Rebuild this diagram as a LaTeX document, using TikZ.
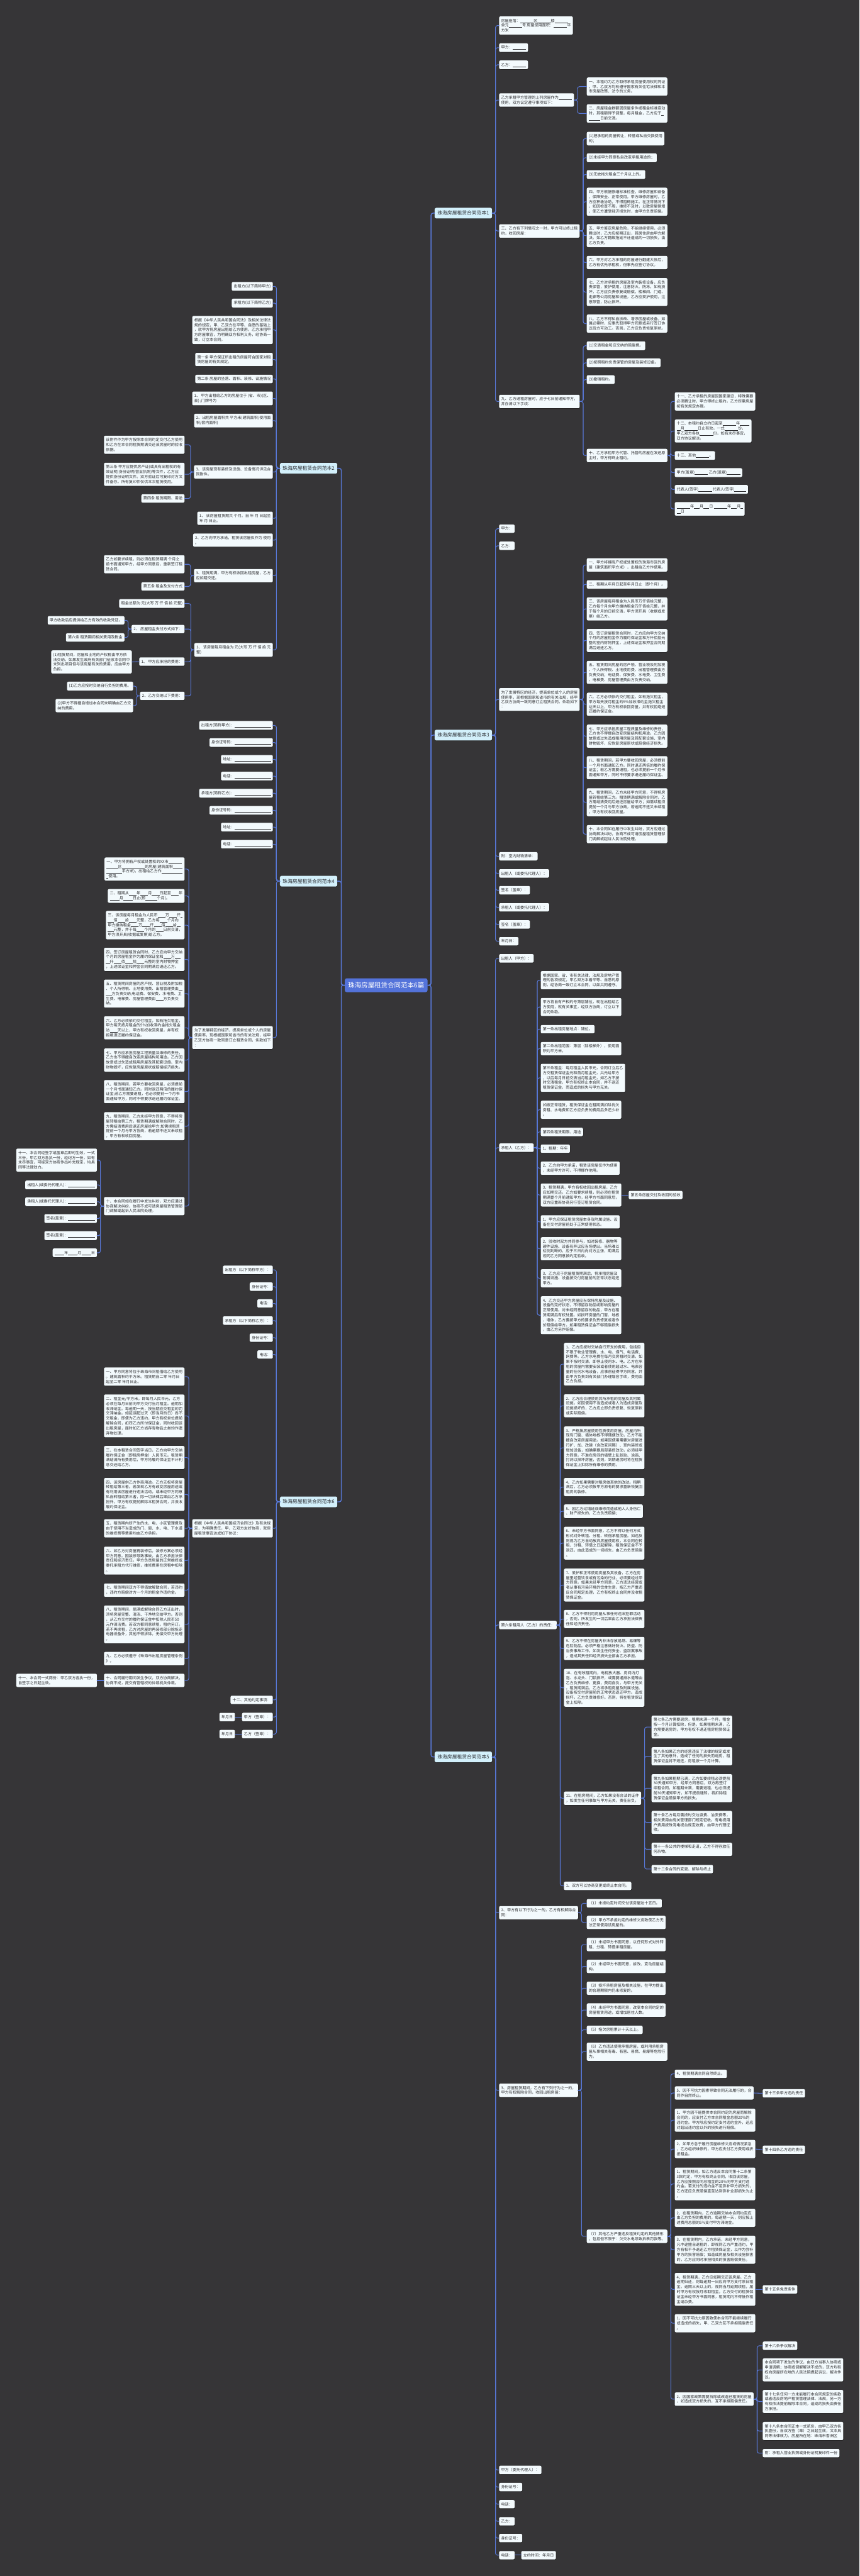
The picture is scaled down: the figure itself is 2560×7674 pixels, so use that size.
\documentclass[tikz,border=0pt]{standalone}
\usepackage{fontspec}
\setmainfont{Noto Sans CJK SC}
\usetikzlibrary{shadows}
\newcommand{\blk}[1]{\rule[-0.8pt]{\dimexpr 2.85pt*#1\relax}{0.4pt}}

\begin{document}
\begin{tikzpicture}
		[x=0.5pt,y=-0.5pt,line cap=round,
		%Styles
		conn/.style={draw=linkcolor,line width=1pt,rounded corners=3pt},
		leaf/.style={rounded corners=2pt,fill=leafcolor,text=inkcolor,align=left,inner xsep=3pt,inner ysep=3.6pt,
			font=\fontsize{5.7}{7.3}\selectfont,
			drop shadow={shadow xshift=.5pt,shadow yshift=-.6pt,opacity=.45,fill=black}},
		leafR/.style={leaf,anchor=west},
		leafL/.style={leaf,anchor=east},
		topic/.style={rounded corners=2.5pt,fill=topiccolor,text=topicink,
			inner xsep=4.2pt,inner ysep=4.6pt,font=\fontsize{7.3}{8.5}\selectfont,
			drop shadow={shadow xshift=.5pt,shadow yshift=-.6pt,opacity=.45,fill=black}},
		root/.style={rounded corners=3pt,fill=rootcolor,text=white,inner xsep=5pt,inner ysep=5.8pt,
			font=\fontsize{9.8}{11}\selectfont}
		]
		
		%Colors
		\definecolor{bgcolor}{RGB}{54,53,55}
		\definecolor{linkcolor}{RGB}{88,120,216}
		\definecolor{leafcolor}{RGB}{243,250,253}
		\definecolor{inkcolor}{RGB}{45,45,48}
		\definecolor{topiccolor}{RGB}{211,240,251}
		\definecolor{topicink}{RGB}{43,45,50}
		\definecolor{rootcolor}{RGB}{84,115,218}
		
		%Background
		\fill[bgcolor] (0,0) rectangle (2560,7674);
		\useasboundingbox (0,0) rectangle (2560,7674);
		
		%Root and topics
		\node[root] (root) at (1150,2935) {珠海房屋租赁合同范本6篇};
		\node[topic,anchor=west] (t1) at (1294,635) {珠海房屋租赁合同范本1};
		\node[topic,anchor=west] (t3) at (1294,2190) {珠海房屋租赁合同范本3};
		\node[topic,anchor=west] (t5) at (1294,5234) {珠海房屋租赁合同范本5};
		\node[topic,anchor=east] (t2) at (1005,1395) {珠海房屋租赁合同范本2};
		\node[topic,anchor=east] (t4) at (1005,2625) {珠海房屋租赁合同范本4};
		\node[topic,anchor=east] (t6) at (1005,4474) {珠海房屋租赁合同范本6};
		
		\draw[conn,line width=1.3pt] (root.east) -- ++(10,0) |- (t1.west);
		\draw[conn,line width=1.3pt] (root.east) -- ++(10,0) |- (t3.west);
		\draw[conn,line width=1.3pt] (root.east) -- ++(10,0) |- (t5.west);
		\draw[conn,line width=1.3pt] (root.west) -- ++(-10,0) |- (t2.east);
		\draw[conn,line width=1.3pt] (root.west) -- ++(-10,0) |- (t4.east);
		\draw[conn,line width=1.3pt] (root.west) -- ++(-10,0) |- (t6.east);
		
		%Topic 1
		\node[leafR] (a1) at (1486,76) {房屋座落：\blk{7}区\blk{7}楼\blk{7}\\单元\blk{7}号 房屋使用面积：\blk{7}平\\方米};
		\node[leafR] (a2) at (1486,142) {甲方：\blk{7}};
		\node[leafR] (a3) at (1486,193) {乙方：\blk{7}};
		\node[leafR] (a4) at (1486,298) {乙方承租甲方管理的上列房屋作为\blk{7}\\使用，双方议定遵守事项如下：};
		\node[leafR] (a5) at (1486,688) {三、乙方有下列情况之一时，甲方可以终止租\\约，收回房屋：};
		\node[leafR] (a6) at (1486,1196) {九、乙方退租房屋时，应于七日前通知甲方，\\并办清以下手续：};
		\foreach \c in {a1,a2,a3,a4,a5,a6}
			\draw[conn] (t1.east) -- ++(10,0) |- (\c.west);
		
		\node[leafR] (a4a) at (1747,258) {一、本租约为乙方取得承租房屋使用权的凭证\\。甲、乙双方均有遵守国家有关住宅法律和本\\市房屋政策、法令的义务。};
		\node[leafR] (a4b) at (1747,338) {二、房屋租金数额因房屋条件或租金标准变动\\时，其租额得予调整，每月租金，乙方应于\blk{1}\\\blk{6}日前交清。};
		\foreach \c in {a4a,a4b}
			\draw[conn] (a4.east) -- ++(10,0) |- (\c.west);
		
		\node[leafR] (a5a) at (1747,413) {(1)把承租的房屋转让，转借或私自交换使用\\的；};
		\node[leafR] (a5b) at (1747,470) {(2)未经甲方同意私自改变承租用途的；};
		\node[leafR] (a5c) at (1747,520) {(3)无故拖欠租金三个月以上的。};
		\node[leafR] (a5d) at (1747,601) {四、甲方根据修缮标准检查，维修房屋和设备\\，保障安全、正常使用。甲方维修房屋时，乙\\方应积极协助，不得阻碍施工。在正常情况下\\，如因检查不周，维修不及时，以致房屋倒塌\\，使乙方遭受经济损失时，由甲方负责赔偿。};
		\node[leafR] (a5e) at (1747,702) {五、甲方鉴定房屋危险，不能继续使用，必须\\腾出时，乙方应按期迁出，其居住房由甲方解\\决。如乙方籍故拖延不迁造成的一切损失，由\\乙方负责。};
		\node[leafR] (a5f) at (1747,782) {六、甲方对乙方承租的房屋进行翻建大修后，\\乙方有优先承租权，但事先应签订协议。};
		\node[leafR] (a5g) at (1747,870) {七、乙方对承租的房屋及室内装修设备，应负\\责保管，爱护使用，注意防火、防冻。如有损\\坏，乙方应负责修复或赔偿。楼梯间、门道、\\走廊等公用房屋和设施，乙方应爱护使用，注\\意照管，防止损坏。};
		\node[leafR] (a5h) at (1747,964) {八、乙方不得私自拆改、增添房屋或设备。如\\属必需时，应事先取得甲方同意或另行签订协\\议后方可动工。否则，乙方应负责恢复原状。};
		\foreach \c in {a5a,a5b,a5c,a5d,a5e,a5f,a5g,a5h}
			\draw[conn] (a5.east) -- ++(10,0) |- (\c.west);
		
		\node[leafR] (a6a) at (1747,1030) {(1)交清租金和应交纳的赔偿费。};
		\node[leafR] (a6b) at (1747,1081) {(2)按照租约负责保管的房屋及装修设备。};
		\node[leafR] (a6c) at (1747,1131) {(3)撤销租约。};
		\node[leafR] (a6d) at (1747,1357) {十、乙方承租甲方代管、托管的房屋在发还原\\主时，甲方得终止租约。};
		\foreach \c in {a6a,a6b,a6c,a6d}
			\draw[conn] (a6.east) -- ++(10,0) |- (\c.west);
		
		\node[leafR] (g1) at (2009,1196) {十一、乙方承租的房屋因国家建设，特殊需要\\必须腾让时，甲方得终止租约。乙方所需房屋\\按有关规定办理。};
		\node[leafR] (g2) at (2009,1284) {十二、本租约自立约日起至\blk{7}年\blk{5}\\\blk{2}月\blk{7}日止有效。一式\blk{7}份，\\甲乙双方各执\blk{7}份，如有未尽事宜，\\双方协议解决。};
		\node[leafR] (g3) at (2009,1357) {十三、其他\blk{7}。};
		\node[leafR] (g4) at (2009,1408) {甲方(盖章)\blk{7} 乙方(盖章)\blk{7}};
		\node[leafR] (g5) at (2009,1458) {代表人(签字)\blk{7} 代表人(签字)\blk{6}};
		\node[leafR] (g6) at (2009,1516) {\blk{7}年\blk{3}月\blk{3}日 \blk{7}年\blk{3}月\blk{1}\\\blk{2}日};
		\foreach \c in {g1,g2,g3,g4,g5,g6}
			\draw[conn] (a6d.east) -- ++(10,0) |- (\c.west);
		
		%Topic 3
		\node[leafR] (b1) at (1486,1575) {甲方：};
		\node[leafR] (b2) at (1486,1626) {乙方：};
		\node[leafR] (b3) at (1486,2084) {为了发展特区的经济，提高单位或个人的房屋\\使用率，现根据国家和省市的有关法规，经甲\\乙双方协商一致同意订立租赁合同，条款如下\\：};
		\node[leafR] (b4) at (1486,2551) {附：室内财物清单：};
		\node[leafR] (b5) at (1486,2602) {出租人（或委托代理人）：};
		\node[leafR] (b6) at (1486,2652) {签名（盖章）：};
		\node[leafR] (b7) at (1486,2703) {承租人（或委托代理人）：};
		\node[leafR] (b8) at (1486,2754) {签名（盖章）：};
		\node[leafR] (b9) at (1486,2804) {年月日：};
		\foreach \c in {b1,b2,b3,b4,b5,b6,b7,b8,b9}
			\draw[conn] (t3.east) -- ++(10,0) |- (\c.west);
		
		\node[leafR] (h1) at (1747,1683) {一、甲方将拥有产权或处置权的珠海市区的房\\屋（建筑面积平方米），出租给乙方作使用。};
		\node[leafR] (h2) at (1747,1741) {二、租期从年月日起至年月日止（即个月）。};
		\node[leafR] (h3) at (1747,1814) {三、该房屋每月租金为人民币万仟佰拾元整，\\乙方每个月向甲方缴纳租金万仟佰拾元整，并\\于每个月的日前交清，甲方须开具（收据或发\\票）给乙方。};
		\node[leafR] (h4) at (1747,1908) {四、签订房屋租赁合同时，乙方应向甲方交纳\\个月的房屋租金作为履约保证金和万仟佰拾元\\整的室内财物押金，上述保证金和押金合同期\\满后退还乙方。};
		\node[leafR] (h5) at (1747,2003) {五、租赁期间房屋的房产税、营业税及附加税\\、个人所得税、土地使用费、出租管理费由方\\负责交纳；电话费、保安费、水电费、卫生费\\、电梯费、房屋管理费由方负责交纳。};
		\node[leafR] (h6) at (1747,2098) {六、乙方必须依约交付租金，如有拖欠租金，\\甲方每天按月租金的5\%加收滞约金拖欠租金\\达天以上，甲方有权收回房屋，并有权拒绝退\\还履约保证金。};
		\node[leafR] (h7) at (1747,2193) {七、甲方应承担房屋工程质量及维修的责任，\\乙方也不得擅自改变房屋结构和用途。乙方因\\故意或过失造成租用房屋及其配套设施、室内\\财物毁坏，应恢复房屋原状或赔偿经济损失。};
		\node[leafR] (h8) at (1747,2287) {八、租赁期间，若甲方要收回房屋，必须提前\\一个月书面通知乙方。同时退还两倍的履约保\\证金；若乙方需要退租，也必须提前一个月书\\面通知甲方，同时不得要求退还履约保证金。};
		\node[leafR] (h9) at (1747,2390) {九、租赁期间，乙方未经甲方同意，不得将房\\屋转租给第三方。租赁期满或解除合同时，乙\\方需结清费用后退还房屋给甲方；如需续租须\\提前一个月与甲方协商，若逾期不还又未续租\\，甲方有权收回房屋。};
		\node[leafR] (h10) at (1747,2485) {十、本合同如在履行中发生纠纷，双方应通过\\协商解决纠纷，协商不成可请房屋租赁管理部\\门调解或起诉人民法院处理。};
		\foreach \c in {h1,h2,h3,h4,h5,h6,h7,h8,h9,h10}
			\draw[conn] (b3.east) -- ++(10,0) |- (\c.west);
		
		%Topic 5
		\node[leafR] (c1) at (1486,2855) {出租人（甲方）：};
		\node[leafR] (c2) at (1486,3419) {承租人（乙方）：};
		\node[leafR] (c3) at (1486,4841) {第六条租用人（乙方）的责任：};
		\node[leafR] (c4) at (1486,5698) {2、甲方有以下行为之一的，乙方有权解除合\\同：};
		\node[leafR] (c5) at (1486,6227) {3、房屋租赁期间，乙方有下列行为之一的，\\甲方有权解除合同，收回出租房屋：};
		\node[leafR] (c6) at (1486,7358) {甲方（委托代理人）：};
		\node[leafR] (c7) at (1486,7409) {身份证号：};
		\node[leafR] (c8) at (1486,7460) {电话：};
		\node[leafR] (c9) at (1486,7511) {乙方：};
		\node[leafR] (c10) at (1486,7561) {身份证号：};
		\node[leafR] (c11) at (1486,7612) {电话：};
		\foreach \c in {c1,c2,c3,c4,c5,c6,c7,c8,c9,c10,c11}
			\draw[conn] (t5.east) -- ++(10,0) |- (\c.west);
		\node[leafR] (c11a) at (1552,7612) {立约时间：年月日};
		\draw[conn] (c11.east) -- (c11a.west);
		
		\node[leafR] (k1) at (1610,2920) {根据国家、省、市有关法律、法规及房地产管\\理的各项规定，甲乙双方本着平等、自愿的原\\则，经协商一致订立本合同，以兹共同遵守。};
		\node[leafR] (k2) at (1610,3000) {甲方将自有产权的号第层铺位，现在出租给乙\\方使用，就有关事宜，经双方协商，订立以下\\合同条款。};
		\node[leafR] (k3) at (1610,3066) {第一条出租房屋地点：铺位。};
		\node[leafR] (k4) at (1610,3124) {第二条出租范围：第层（除楼梯外），使用面\\积约平方米。};
		\node[leafR] (k5) at (1610,3211) {第三条租金：每月租金人民币元，合同订立后乙\\方交租赁保证金元和首月租金元，共元给甲方\\，以后每月日前交清当月租金元，如乙方不按\\时交清租金，甲方有权终止本合同，并不退还\\租赁保证金，而造成的损失与甲方无关。};
		\node[leafR] (k6) at (1610,3306) {如按正常租赁，租赁保证金在租期满扣除尚欠\\房租、水电费和乙方应负责的费用后多还少补\\。};
		\node[leafR] (k7) at (1610,3372) {第四条租赁期限、用途};
		\node[leafR] (k8) at (1610,3422) {1、租期：年年};
		\node[leafR] (k9) at (1610,3480) {2、乙方向甲方承诺，租赁该房屋仅作为使用\\，未经甲方许可，不得挪作他用。};
		\node[leafR] (k10) at (1610,3560) {3、租赁期满，甲方有权收回出租房屋，乙方\\应如期交还。乙方如要求续租，则必须在租赁\\期满壹个月前通知甲方，经甲方书面同意后，\\双方应重新协商另行签订租赁合同。};
		\node[leafR] (k11) at (1610,3640) {1、甲方应保证租赁房屋本身及附属设施、设\\备在交付房屋前处于正常使用状态。};
		\node[leafR] (k12) at (1610,3720) {2、验收时双方共同参与，如对装修、器物等\\硬件设施、设备有异议应当场提出。当场难以\\检测判断的，应于三日内向对方主张，期满后\\视同乙方同意按约定验收。};
		\node[leafR] (k13) at (1610,3808) {3、乙方应于房屋租赁期满后，将承租房屋及\\附属设施、设备按交付房屋前的正常状态返还\\甲方。};
		\node[leafR] (k14) at (1610,3918) {4、乙方交还甲方房屋应当保持房屋及设施、\\设备的完好状态，不得留存物品或影响房屋的\\正常使用。对未经同意留存的物品，甲方在租\\赁期满后有权处置。如损坏房屋的门窗、地板\\、墙体，乙方要按甲方的要求负责修复或者作\\价赔偿给甲方。如果租赁保证金不够赔偿损失\\，由乙方另作赔偿。};
		\foreach \c in {k1,k2,k3,k4,k5,k6,k7,k8,k9,k10,k11,k12,k13,k14}
			\draw[conn] (c2.east) -- ++(10,0) |- (\c.west);
		\node[leafR] (k10a) at (1872,3560) {第五条房屋交付及收回的验收};
		\draw[conn] (k10.east) -- (k10a.west);
		
		\node[leafR] (m1) at (1679,4064) {1、乙方应按时交纳自行开支的费用，包括但\\不限于物业管理费、水、电、煤气、电话费、\\网费等。乙方水电费在每月交房租时交清，如\\果不按时交清，即停止使用水、电。乙方在承\\租的房屋内需要安装或者使用超过水、电表容\\量的任何水电设备，应事前征得甲方同意，并\\由甲方负责到有关部门办理增容手续，费用由\\乙方负担。};
		\node[leafR] (m2) at (1679,4188) {2、乙方应合理使用其所承租的房屋及其附属\\设施。如因使用不当造成或者人为造成房屋及\\设施损坏的，乙方应立即负责修复、恢复原状\\或实际赔偿。};
		\node[leafR] (m3) at (1679,4313) {3、严格按房屋使用性质使用房屋。房屋内所\\现有门窗、墙体地板不得随便改动，乙方不能\\擅自改变房屋用途。如果因使用需要对房屋进\\行扩、加、改建（含改变间隔）、室内装修或\\增加设备，如确需要局部装修改动，必须经甲\\方同意。不准在房间的墙壁上乱张贴、涂画、\\打洞以损坏房屋，否则，到期退房时将在租赁\\保证金上扣除所有维修的费用。};
		\node[leafR] (m4) at (1679,4430) {4、乙方如果需要对租房做其他的改动。租期\\满后，乙方必须按甲方原有的要求重新恢复回\\租房的装修。};
		\node[leafR] (m5) at (1679,4502) {5、因乙方过错延误维修而造成他人人身伤亡\\、财产损失的，乙方负责赔偿；};
		\node[leafR] (m6) at (1679,4597) {6、未经甲方书面同意，乙方不得以任何方式\\形式对外转租、分租、转借承租房屋。如违反\\则视为乙方自动放弃房屋使用权，本合同在转\\租、分租、转借之日起解除，租赁保证金不予\\退还，由此造成的一切损失，由乙方负责赔偿\\。};
		\node[leafR] (m7) at (1679,4722) {7、爱护和正常使用房屋及其设备，乙方在房\\屋里经营饮食或有污染的行业，必须要经过甲\\方同意。如果未经甲方同意，乙方违法经营或\\者从事有污染环境的饮食生意，按乙方严重违\\反合同规定处理，乙方有权终止合同并没收租\\赁保证金。};
		\node[leafR] (m8) at (1679,4823) {8、乙方不得利用房屋从事任何违法犯罪活动\\，否则，所发生的一切后果由乙方承担法律责\\任和经济责任。};
		\node[leafR] (m9) at (1679,4911) {9、乙方不得在房屋内非法存放易燃、易爆等\\危险物品。必须严格注意做好防火、防盗、防\\治安事故工作。如发生任何安全、盗窃案事故\\，造成其责任和经济损失全部由乙方承担。};
		\node[leafR] (m10) at (1679,5028) {10、在有效租期内，电视放大器、房间内灯\\泡、水龙头、门锁损坏，或需要通排水道等由\\乙方负责维修、更换，费用自负，与甲方无关\\。租赁期满后，乙方将承租房屋及附属设施、\\设备按交付房屋前的正常状态返还甲方。造成\\损坏，乙方负责维修好。否则，将在租赁保证\\金上扣除。};
		\node[leafR] (m11) at (1679,5357) {11、在租房期间，乙方如果没有合法的证件\\，如发生任何事故与甲方无关，责任自负。};
		\node[leafR] (m12) at (1679,5618) {1、双方可以协商变更或终止本合同。};
		\foreach \c in {m1,m2,m3,m4,m5,m6,m7,m8,m9,m10,m11,m12}
			\draw[conn] (c3.east) -- ++(10,0) |- (\c.west);
		
		\node[leafR] (n1) at (1940,5145) {第七条乙方需要退房，租期未满一个月，租金\\按一个月计算扣除，但是，如果租期未满，乙\\方需要退房的，甲方有权不退还租房租赁保证\\金。};
		\node[leafR] (n2) at (1940,5232) {第八条如果乙方的经营违反了法律的规定或发\\生了其他意外，造成了任何的损失而退房，租\\赁保证金将不退还，房租按一个月计算。};
		\node[leafR] (n3) at (1940,5327) {第九条如果租期已满，乙方如要续租必须提前\\30天通知甲方，经甲方同意后，双方再签订\\续租合同，如租期未满，需要退租，也必须提\\前30天通知甲方，如不提前通知，将扣除租\\赁保证金赔偿甲方的损失。};
		\node[leafR] (n4) at (1940,5429) {第十条乙方每月需按时交垃圾费、治安费等，\\相关费用由有关管理部门规定征收。有电视用\\户费用按珠海电视台规定收费，由甲方代理征\\收。};
		\node[leafR] (n5) at (1940,5509) {第十一条公共的楼梯和走道，乙方不得存放任\\何杂物。};
		\node[leafR] (n6) at (1940,5568) {第十二条合同的变更、解除与终止};
		\foreach \c in {n1,n2,n3,n4,n5,n6}
			\draw[conn] (m11.east) -- ++(10,0) |- (\c.west);
		
		\node[leafR] (p1) at (1747,5670) {（1）未按约定时间交付该房屋达十五日。};
		\node[leafR] (p2) at (1747,5727) {（2）甲方不承担约定的维修义务致使乙方无\\法正常使用该房屋的。};
		\foreach \c in {p1,p2}
			\draw[conn] (c4.east) -- ++(10,0) |- (\c.west);
		
		\node[leafR] (r1) at (1747,5793) {（1）未经甲方书面同意，以任何形式对外转\\租、分租、转借承租房屋。};
		\node[leafR] (r2) at (1747,5858) {（2）未经甲方书面同意，拆改、变动房屋结\\构。};
		\node[leafR] (r3) at (1747,5923) {（3）损坏承租房屋及相关设施，在甲方提出\\的合理期限内仍未修复的。};
		\node[leafR] (r4) at (1747,5988) {（4）未经甲方书面同意，改变本合同约定的\\房屋租赁用途，或增加居住人数。};
		\node[leafR] (r5) at (1747,6047) {（5）拖欠房租累计十天以上。};
		\node[leafR] (r6) at (1747,6112) {（6）乙方违法使用承租房屋，或利用承租房\\屋从事相关有毒、有害、易燃、易爆等危险行\\为。};
		\node[leafR] (r7) at (1747,6662) {（7）其他乙方严重违反租赁约定的其他情形\\，包括但不限于：欠交水电导致拆表罚款等。};
		\foreach \c in {r1,r2,r3,r4,r5,r6,r7}
			\draw[conn] (c5.east) -- ++(10,0) |- (\c.west);
		
		\node[leafR] (q1) at (2009,6178) {4、租赁期满合同自然终止。};
		\node[leafR] (q2) at (2009,6235) {5、因不可抗力因素导致合同无法履行的，合\\同作自然终止。};
		\node[leafR] (q3) at (2009,6316) {1、甲方因不能提供本合同约定的房屋而解除\\合同的，应支付乙方本合同租金总额20\%的\\违约金。甲方除应按约定支付违约金外，还应\\对超出违约金以外的损失进行赔偿。};
		\node[leafR] (q4) at (2009,6402) {2、如甲方怠于履行房屋维修义务或情况紧急\\，乙方组织维修的，甲方应支付乙方费用或折\\抵租金。};
		\node[leafR] (q5) at (2009,6506) {1、租赁期间，如乙方违反本合同第十二条第\\3款约定，甲方有权终止合同，收回该房屋，\\乙方应按照合同总租金的20\%向甲方支付违\\约金。若支付的违约金不足弥补甲方损失的，\\乙方还应负责赔偿直至达到弥补全部损失为止\\。};
		\node[leafR] (q6) at (2009,6607) {2、在租赁期内，乙方逾期交纳本合同约定应\\由乙方负担的费用的，每逾期一天，则应按上\\述费用总额的5\%支付甲方滞纳金。};
		\node[leafR] (q7) at (2009,6702) {3、在租赁期内，乙方承诺，未经甲方同意，\\凡中途擅自退租的，即视同乙方严重违约，甲\\方有权不予退还乙方租赁保证金，以作为弥补\\甲方的损害赔偿；如造成房屋及相关设施损害\\的，乙方应同时承担相关的损害赔偿责任。};
		\node[leafR] (q8) at (2009,6820) {4、租赁期满，乙方应如期交还该房屋。乙方\\逾期归还，则每逾期一日应向甲方支付原日租\\金。逾期三天以上的，视同当月延期续租，届\\时甲方有权按月收取租金。乙方交付的租赁保\\证金未经甲方书面同意，租赁期内不得抵作租\\金或杂费。};
		\node[leafR] (q9) at (2009,6921) {1、因不可抗力原因致使本合同不能继续履行\\或造成的损失，甲、乙双方互不承担赔偿责任\\。};
		\node[leafR] (q10) at (2009,7147) {2、因国家政策需要拆除或改造已租赁的房屋\\，如造成双方损失的，互不承担赔偿责任。};
		\foreach \c in {q1,q2,q3,q4,q5,q6,q7,q8,q9,q10}
			\draw[conn] (r7.east) -- ++(10,0) |- (\c.west);
		\node[leafR] (q2a) at (2271,6236) {第十三条甲方违约责任};
		\node[leafR] (q4a) at (2271,6404) {第十四条乙方违约责任};
		\node[leafR] (q8a) at (2271,6820) {第十五条免责条件};
		\draw[conn] (q2.east) -- (q2a.west);
		\draw[conn] (q4.east) -- (q4a.west);
		\draw[conn] (q8.east) -- (q8a.west);
		
		\node[leafR] (s1) at (2271,6988) {第十六条争议解决};
		\node[leafR] (s2) at (2271,7060) {本合同项下发生的争议，由双方当事人协商或\\申请调解；协商或调解解决不成的，双方均有\\权向房屋所在地的人民法院提起诉讼，解决争\\议。};
		\node[leafR] (s3) at (2271,7154) {第十七条任何一方未能履行本合同规定的条款\\或者违反房地产租赁管理法律、法规，另一方\\有权依法提前解除本合同，造成的损失由责任\\方承担。};
		\node[leafR] (s4) at (2271,7242) {第十八条本合同正本一式贰份，由甲乙双方各\\执壹份，自双方签（章）之日起生效，文本具\\同等法律效力。房屋所在地：珠海市香洲区};
		\node[leafR] (s5) at (2271,7308) {附：承租人营业执照或身份证明复印件一份};
		\foreach \c in {s1,s2,s3,s4,s5}
			\draw[conn] (q10.east) -- ++(10,0) |- (\c.west);
		
		%Topic 2
		\node[leafL] (d1) at (813,853) {出租方(以下简称甲方)};
		\node[leafL] (d2) at (813,903) {承租方(以下简称乙方)};
		\node[leafL] (d3) at (813,983) {根据《中华人民共和国合同法》及相关法律法\\规的规定，甲、乙双方在平等、自愿的基础上\\，就甲方将房屋出租给乙方使用，乙方承租甲\\方房屋事宜，为明确双方权利义务，经协商一\\致，订立本合同。};
		\node[leafL] (d4) at (813,1071) {第一条 甲方保证所出租的房屋符合国家对租\\赁房屋的有关规定。};
		\node[leafL] (d5) at (813,1129) {第二条 房屋的坐落、面积、装修、设施情况};
		\node[leafL] (d6) at (813,1187) {1、 甲方出租给乙方的房屋位于 (省、市)(区、\\县) ;门牌号为};
		\node[leafL] (d7) at (813,1253) {2、出租房屋面积共 平方米(建筑面积/使用面\\积/套内面积)};
		\node[leafL] (d8) at (813,1406) {3、该房屋现有装修及设施、设备情况详见合\\同附件。};
		\node[leafL] (d9) at (813,1544) {1、 该房屋租赁期共 个月。自 年 月 日起至\\年 月 日止。};
		\node[leafL] (d10) at (813,1609) {2、乙方向甲方承诺，租赁该房屋仅作为 使用\\。};
		\node[leafL] (d11) at (813,1715) {3、租赁期满，甲方有权收回出租房屋，乙方\\应如期交还。};
		\node[leafL] (d12) at (813,1936) {1、 该房屋每月租金为 元(大写 万 仟 佰 拾 元\\整)};
		\foreach \c in {d1,d2,d3,d4,d5,d6,d7,d8,d9,d10,d11,d12}
			\draw[conn] (t2.west) -- ++(-10,0) |- (\c.east);
		
		\node[leafL] (d8a) at (550,1325) {该附件作为甲方按照本合同约定交付乙方使用\\和乙方在本合同租赁期满交还该房屋时的验收\\依据。};
		\node[leafL] (d8b) at (550,1413) {第三条 甲方应提供房产证(或具有出租权的有\\效证明)身份证明(营业执照)等文件，乙方应\\提供身份证明文件。双方验证后可复印对方文\\件备存。所有复印件仅供本次租赁使用。};
		\node[leafL] (d8c) at (550,1485) {第四条 租赁期限、用途};
		\foreach \c in {d8a,d8b,d8c}
			\draw[conn] (d8.west) -- ++(-10,0) |- (\c.east);
		
		\node[leafL] (d11a) at (550,1681) {乙方如要求续租，则必须在租赁期满 个月之\\前书面通知甲方，经甲方同意后，重新签订租\\赁合同。};
		\node[leafL] (d11b) at (550,1747) {第五条 租金及支付方式};
		\foreach \c in {d11a,d11b}
			\draw[conn] (d11.west) -- ++(-10,0) |- (\c.east);
		
		\node[leafL] (d12a) at (550,1798) {租金总额为 元(大写 万 仟 佰 拾 元整)};
		\node[leafL] (d12b) at (550,1874) {2、 房屋租金支付方式如下：};
		\node[leafL] (d12c) at (550,1971) {1、 甲方应承担的费用：};
		\node[leafL] (d12d) at (550,2073) {2、乙方交纳以下费用：};
		\foreach \c in {d12a,d12b,d12c,d12d}
			\draw[conn] (d12.west) -- ++(-10,0) |- (\c.east);
		
		\node[leafL] (d12b1) at (371,1848) {甲方收款后应提供给乙方有效的收款凭证。};
		\node[leafL] (d12b2) at (371,1899) {第六条 租赁期间相关费用及税金};
		\foreach \c in {d12b1,d12b2}
			\draw[conn] (d12b.west) -- ++(-10,0) |- (\c.east);
		\node[leafL] (d12c1) at (393,1972) {(1)租赁期间，房屋和土地的产权税由甲方依\\法交纳。如果发生政府有关部门征收本合同中\\未列出项目但与该房屋有关的费用，应由甲方\\负担。};
		\draw[conn] (d12c.west) -- (d12c1.east);
		\node[leafL] (d12d1) at (397,2044) {(1)乙方应按时交纳自行负担的费用。};
		\node[leafL] (d12d2) at (397,2102) {(2)甲方不得擅自增加本合同未明确由乙方交\\纳的费用。};
		\foreach \c in {d12d1,d12d2}
			\draw[conn] (d12d.west) -- ++(-10,0) |- (\c.east);
		
		%Topic 4
		\node[leafL] (e1) at (813,2161) {出租方(简称甲方)：\blk{19}};
		\node[leafL] (e2) at (813,2212) {身份证号码：\blk{19}};
		\node[leafL] (e3) at (813,2262) {地址：\blk{19}};
		\node[leafL] (e4) at (813,2312) {电话：\blk{19}};
		\node[leafL] (e5) at (813,2363) {承租方(简称乙方)：\blk{19}};
		\node[leafL] (e6) at (813,2414) {身份证号码：\blk{19}};
		\node[leafL] (e7) at (813,2464) {地址：\blk{19}};
		\node[leafL] (e8) at (813,2515) {电话：\blk{19}};
		\node[leafL] (e9) at (813,3091) {为了发展特区的经济，提高单位或个人的房屋\\使用率，现根据国家和省市的有关法规，经甲\\乙双方协商一致同意订立租赁合同，条款如下\\：};
		\foreach \c in {e1,e2,e3,e4,e5,e6,e7,e8,e9}
			\draw[conn] (t4.west) -- ++(-10,0) |- (\c.east);
		
		\node[leafL] (u1) at (550,2589) {一、甲方将拥有产权或处置权的XX市\blk{7}\\\blk{6}区\blk{12}的房屋(建筑面积\blk{5}\\\blk{8}平方米)，出租给乙方作\blk{11}\\\blk{1}使用。};
		\node[leafL] (u2) at (550,2669) {二、租期从\blk{4}年\blk{4}月\blk{4}日起至\blk{4}年\\\blk{5}月\blk{5}日止(即\blk{6}个月)。};
		\node[leafL] (u3) at (550,2756) {三、该房屋每月租金为人民币\blk{4}万\blk{4}仟\blk{1}\\\blk{3}佰\blk{4}拾\blk{4}元整，乙方每\blk{4}个月向\\甲方缴纳租金\blk{4}万\blk{4}仟\blk{4}佰\blk{4}拾\blk{2}\\\blk{3}元整，并于每\blk{4}个月的\blk{4}日前交清，\\甲方须开具(收据或发票)给乙方。};
		\node[leafL] (u4) at (550,2858) {四、签订房屋租赁合同时，乙方应向甲方交纳\\个月的房屋租金作为履约保证金和\blk{4}万\blk{3}\\\blk{2}仟\blk{4}佰\blk{4}拾\blk{4}元整的室内财物押金\\，上述保证金和押金合同期满后退还乙方。};
		\node[leafL] (u5) at (550,2960) {五、租赁期间房屋的房产税、营业税及附加税\\、个人所得税、土地使用费、出租管理费由\blk{2}\\\blk{3}方负责交纳;电话费、保安费、水电费、卫\\生费、电梯费、房屋管理费由\blk{4}方负责交\\纳。};
		\node[leafL] (u6) at (550,3062) {六、乙方必须依约交付租金，如有拖欠租金，\\甲方每天按月租金的5\%加收滞约金拖欠租金\\达\blk{4}天以上，甲方有权收回房屋，并有权\\拒绝退还履约保证金。};
		\node[leafL] (u7) at (550,3158) {七、甲方应承担房屋工程质量及维修的责任，\\乙方也不得擅自改变房屋结构和用途。乙方因\\故意或过失造成租用房屋及其配套设施、室内\\财物毁坏，应恢复房屋原状或赔偿经济损失。};
		\node[leafL] (u8) at (550,3252) {八、租赁期间，若甲方要收回房屋，必须提前\\一个月书面通知乙方。同时退还两倍的履约保\\证金;若乙方需要退租，也必须提前一个月书\\面通知甲方，同时不得要求退还履约保证金。};
		\node[leafL] (u9) at (550,3355) {九、租赁期间，乙方未经甲方同意，不得将房\\屋转租给第三方。租赁期满或解除合同时，乙\\方需结清费用后退还房屋给甲方;如需续租须\\提前一个月与甲方协商，若逾期不还又未续租\\，甲方有权收回房屋。};
		\node[leafL] (u10) at (550,3593) {十、本合同如在履行中发生纠纷，双方应通过\\协商解决纠纷，协商不成可请房屋租赁管理部\\门调解或起诉人民法院处理。};
		\foreach \c in {u1,u2,u3,u4,u5,u6,u7,u8,u9,u10}
			\draw[conn] (e9.west) -- ++(-10,0) |- (\c.east);
		
		\node[leafL] (v1) at (289,3456) {十一、本合同经签字或盖章后即时生效，一式\\三份，甲乙双方各执一份，经纪方一份，如有\\未尽事宜，可经双方协商作出补充规定，均具\\同等法律效力。};
		\node[leafL] (v2) at (289,3530) {出租人(或委托代理人)：\blk{14}};
		\node[leafL] (v3) at (289,3580) {承租人(或委托代理人)：\blk{14}};
		\node[leafL] (v4) at (289,3630) {签名(盖章)：\blk{14}};
		\node[leafL] (v5) at (289,3681) {签名(盖章)：\blk{14}};
		\node[leafL] (v6) at (289,3732) {\blk{5}年\blk{5}月\blk{5}日};
		\foreach \c in {v1,v2,v3,v4,v5,v6}
			\draw[conn] (u10.west) -- ++(-10,0) |- (\c.east);
		
		%Topic 6
		\node[leafL] (f1) at (813,3783) {出租方（以下简称甲方）：};
		\node[leafL] (f2) at (813,3833) {身份证号：};
		\node[leafL] (f3) at (813,3883) {电话：};
		\node[leafL] (f4) at (813,3934) {承租方（以下简称乙方）：};
		\node[leafL] (f5) at (813,3985) {身份证号：};
		\node[leafL] (f6) at (813,4035) {电话：};
		\node[leafL] (f7) at (813,4553) {根据《中华人民共和国经济合同法》及有关规\\定，为明确责任，甲、乙双方友好协商，就房\\屋租赁事宜达成如下协议：};
		\node[leafL] (f8) at (813,5064) {十二、其他约定事项：};
		\node[leafL] (f9) at (813,5115) {甲方（签章）：};
		\node[leafL] (f10) at (813,5166) {乙方（签章）：};
		\foreach \c in {f1,f2,f3,f4,f5,f6,f7,f8,f9,f10}
			\draw[conn] (t6.west) -- ++(-10,0) |- (\c.east);
		\node[leafL] (f9a) at (700,5115) {年月日};
		\node[leafL] (f10a) at (700,5166) {年月日};
		\draw[conn] (f9.west) -- (f9a.east);
		\draw[conn] (f10.west) -- (f10a.east);
		
		\node[leafL] (w1) at (550,4101) {一、甲方同意将位于珠海市间租借给乙方使用\\。建筑面积约平方米。租赁期自二零 年月日\\起至二零 年月日止。};
		\node[leafL] (w2) at (550,4218) {二、租金元/平方米。即每月人民币元，乙方\\必须在每月日前向甲方交付当月租金。逾期加\\收滞纳金。每逾期一天，按当期应交租金的罚\\交滞纳金。如延误超过天（即当月的日）尚不\\交租金，即使为乙方违约，甲方有权单位提前\\解除合同，扣罚乙方所付保证金，同时收回该\\出租房屋，届时如乙方尚存有物品之类均作遗\\弃物处理。};
		\node[leafL] (w3) at (550,4342) {三、在本租赁合同签字当日，乙方向甲方交纳\\履约保证金（即租房押金）人民币元。租赁期\\满结清所有费用后，甲方将履约保证金不计利\\息交还给乙方。};
		\node[leafL] (w4) at (550,4452) {四、该房屋供乙方作商用途。乙方无权将房屋\\转租给第三者。若发现乙方有改变房屋用途或\\有利用该房屋进行违法活动，或未经甲方同意\\私自转租给第三者，除一切法律后果由乙方承\\担外，甲方有权提前解除本租赁合同，并没收\\履约保证金。};
		\node[leafL] (w5) at (550,4553) {五、租赁期内所产生的水、电、小区管理费及\\由于使用不当造成的门、窗、水、电、下水道\\的维修费等费用均由乙方承担。};
		\node[leafL] (w6) at (550,4649) {六、如乙方对房屋再装修后，装修方案必须经\\甲方同意。因装修导致事故，由乙方承担法律\\责任和经济责任。甲方负责房屋的正常维修或\\委托承租方代行维修，维修费用在房租中扣除\\。};
		\node[leafL] (w7) at (550,4737) {七、租赁期间双方不得借故解散合同，若违约\\，违约方赔偿对方一个月的租金作违约金。};
		\node[leafL] (w8) at (550,4839) {八、租赁期间，届满或解除合同乙方迁出时，\\须将房屋完整、清洁、干净地交给甲方。否则\\，从乙方交付的履约保证金中扣除人民币50\\元作清洁费。若双方都同意续租，租约另订。\\若不再续租，乙方对房屋的再装修部分除拆走\\电器设备外，其他不得拆除，无偿交甲方处理\\。};
		\node[leafL] (w9) at (550,4941) {九、乙方必须遵守《珠海市出租房屋管理条例\\》。};
		\node[leafL] (w10) at (550,5006) {十、合同履行期间发生争议，双方协商解决，\\协商不成，提交有管辖权的仲裁机关仲裁。};
		\foreach \c in {w1,w2,w3,w4,w5,w6,w7,w8,w9,w10}
			\draw[conn] (f7.west) -- ++(-10,0) |- (\c.east);
		\node[leafL] (w10a) at (289,5006) {十一、本合同一式两份：甲乙双方各执一份，\\自签字之日起生效。};
		\draw[conn] (w10.west) -- (w10a.east);
	\end{tikzpicture}
\end{document}
